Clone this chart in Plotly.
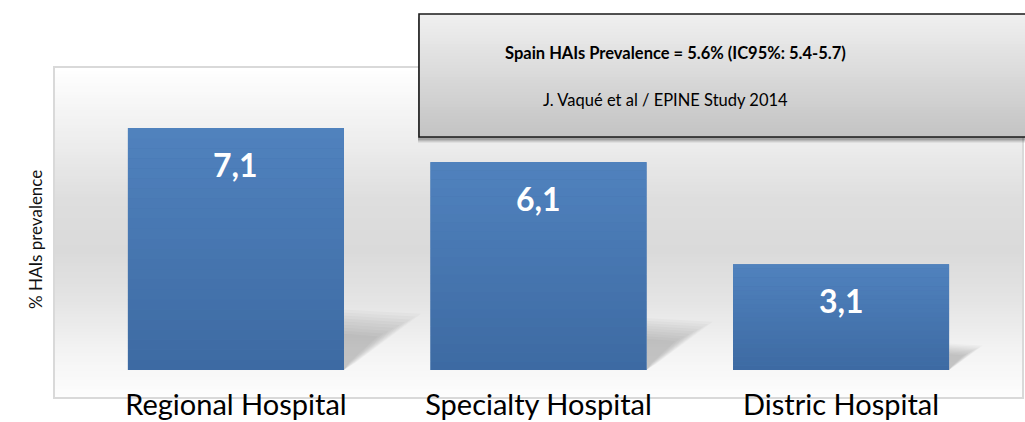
import plotly.graph_objects as go
import numpy as np

# ---- data ----
categories = ["Regional Hospital", "Specialty Hospital", "Distric Hospital"]
prevalence = [7.1, 6.1, 3.1]
value_labels = ["7,1", "6,1", "3,1"]
y_title = "% HAIs prevalence"
box_line1 = "Spain HAIs Prevalence = 5.6% (IC95%: 5.4-5.7)"
box_line2 = "J. Vaqué et al / EPINE Study 2014"

W, H = 1025, 422
L, R, T, B = 55, 1022, 68, 397  # plot area in px

def px(x):
    return (x - L) / (R - L)

def py(y):
    return (B - y) / (B - T)

def interp_gray(stops, y):
    ys = [s[0] for s in stops]
    vs = [s[1] for s in stops]
    v = int(round(np.interp(y, ys, vs)))
    return f"rgb({v},{v},{v})"

def mix(c1, c2, f):
    return "rgb(%d,%d,%d)" % tuple(int(round(a + (b - a) * f)) for a, b in zip(c1, c2))

shapes = []

# plot-area background gradient (white -> gray -> white)
bg_stops = [(68, 255), (130, 240), (200, 222), (250, 218), (300, 228), (350, 243), (397, 253)]
step = 3
for y0 in range(T, B, step):
    y1 = min(y0 + step, B)
    shapes.append(dict(type="rect", xref="paper", yref="paper", layer="below",
                       x0=0, x1=1, y0=py(y1), y1=py(y0),
                       fillcolor=interp_gray(bg_stops, (y0 + y1) / 2), line=dict(width=0)))

# soft floor shadows behind bars (derived from bar values)
bar_w = 0.714
n_layers = 9
for i, v in enumerate(prevalence):
    xr = i + bar_w / 2
    for k in range(n_layers):
        s = 1.0 - 0.07 * k
        dx = 0.036 * v * s
        dy = 0.25 * v * (1.0 - 0.05 * k)
        path = (f"M {xr} {0} L {xr} {dy} L {xr + dx} {dy*0.93} "
                f"L {xr + dx*0.15} {0.03*v} Z")
        shapes.append(dict(type="path", xref="x", yref="y", layer="below", path=path,
                           fillcolor="rgba(0,0,0,0.022)", line=dict(width=0)))

# vertical gradient over each bar (top lighter, bottom darker)
top_c, bot_c = (80, 130, 190), (61, 106, 162)
n_str = 24
for i, v in enumerate(prevalence):
    for k in range(n_str):
        f0, f1 = k / n_str, (k + 1) / n_str
        shapes.append(dict(type="rect", xref="x", yref="y", layer="above",
                           x0=i - bar_w / 2, x1=i + bar_w / 2, y0=v * f0, y1=v * f1 + 0.002,
                           fillcolor=mix(bot_c, top_c, (f0 + f1) / 2), line=dict(width=0)))

# annotation box: shadow, gradient fill, border
bx0, bx1, by0, by1 = 419, 1040, 14, 137
for k, op in enumerate([0.06, 0.08, 0.10, 0.12]):
    off = 6 - k
    shapes.append(dict(type="rect", xref="paper", yref="paper",
                       x0=px(bx0 - 1), x1=px(bx1 + off), y0=py(by1 + off), y1=py(by0 + off),
                       fillcolor=f"rgba(0,0,0,{op})", line=dict(width=0)))
box_stops = [(by0, 240), (by1, 195)]
for y0 in range(by0, by1, 3):
    y1 = min(y0 + 3, by1)
    shapes.append(dict(type="rect", xref="paper", yref="paper",
                       x0=px(bx0), x1=px(bx1), y0=py(y1), y1=py(y0),
                       fillcolor=interp_gray(box_stops, (y0 + y1) / 2), line=dict(width=0)))
shapes.append(dict(type="rect", xref="paper", yref="paper",
                   x0=px(bx0), x1=px(bx1), y0=py(by1), y1=py(by0),
                   fillcolor="rgba(0,0,0,0)", line=dict(color="#1a1a1a", width=1.6)))

fig = go.Figure()
fig.add_trace(go.Bar(
    x=categories, y=prevalence,
    marker=dict(color="#4675ae", line=dict(width=0)),
    hoverinfo="skip",
))

annotations = []
for c, v, t in zip(categories, prevalence, value_labels):
    annotations.append(dict(x=c, y=v, xref="x", yref="y", text=f"<b>{t}</b>",
                            showarrow=False, yanchor="middle", yshift=-36,
                            font=dict(family="Lato", size=32, color="white")))

annotations.append(dict(xref="paper", yref="paper", x=px(35), y=py(240), text=y_title,
                        textangle=-90, showarrow=False, xanchor="center", yanchor="middle",
                        font=dict(family="Lato", size=17, color="#111")))
annotations.append(dict(xref="paper", yref="paper", x=px(675), y=py(53), text=f"<b>{box_line1}</b>",
                        showarrow=False, xanchor="center", yanchor="middle",
                        font=dict(family="Lato", size=16.5, color="black")))
annotations.append(dict(xref="paper", yref="paper", x=px(665), y=py(100), text=box_line2,
                        showarrow=False, xanchor="center", yanchor="middle",
                        font=dict(family="Lato", size=16.5, color="black")))

fig.update_layout(
    width=W, height=H,
    margin=dict(l=L, r=W - R, t=T, b=H - B, autoexpand=False),
    paper_bgcolor="white", plot_bgcolor="white",
    showlegend=False,
    bargap=1 - bar_w,
    shapes=shapes,
    annotations=annotations,
    font=dict(family="Lato", color="black"),
)
fig.update_xaxes(range=[-0.598, 2.598], showgrid=False, zeroline=False, automargin=False,
                 showline=True, mirror=True, linecolor="#d9d9d9", linewidth=2,
                 ticks="", ticklabelstandoff=-19,
                 tickfont=dict(family="Lato", size=29, color="black"))
fig.update_yaxes(range=[-0.792, 8.862], showgrid=False, zeroline=False, automargin=False,
                 showline=True, mirror=True, linecolor="#d9d9d9", linewidth=2,
                 showticklabels=False, ticks="")

fig.write_html("out.html", config={"displayModeBar": False},
               post_script="document.body.style.margin='0';document.body.style.overflow='hidden';")
